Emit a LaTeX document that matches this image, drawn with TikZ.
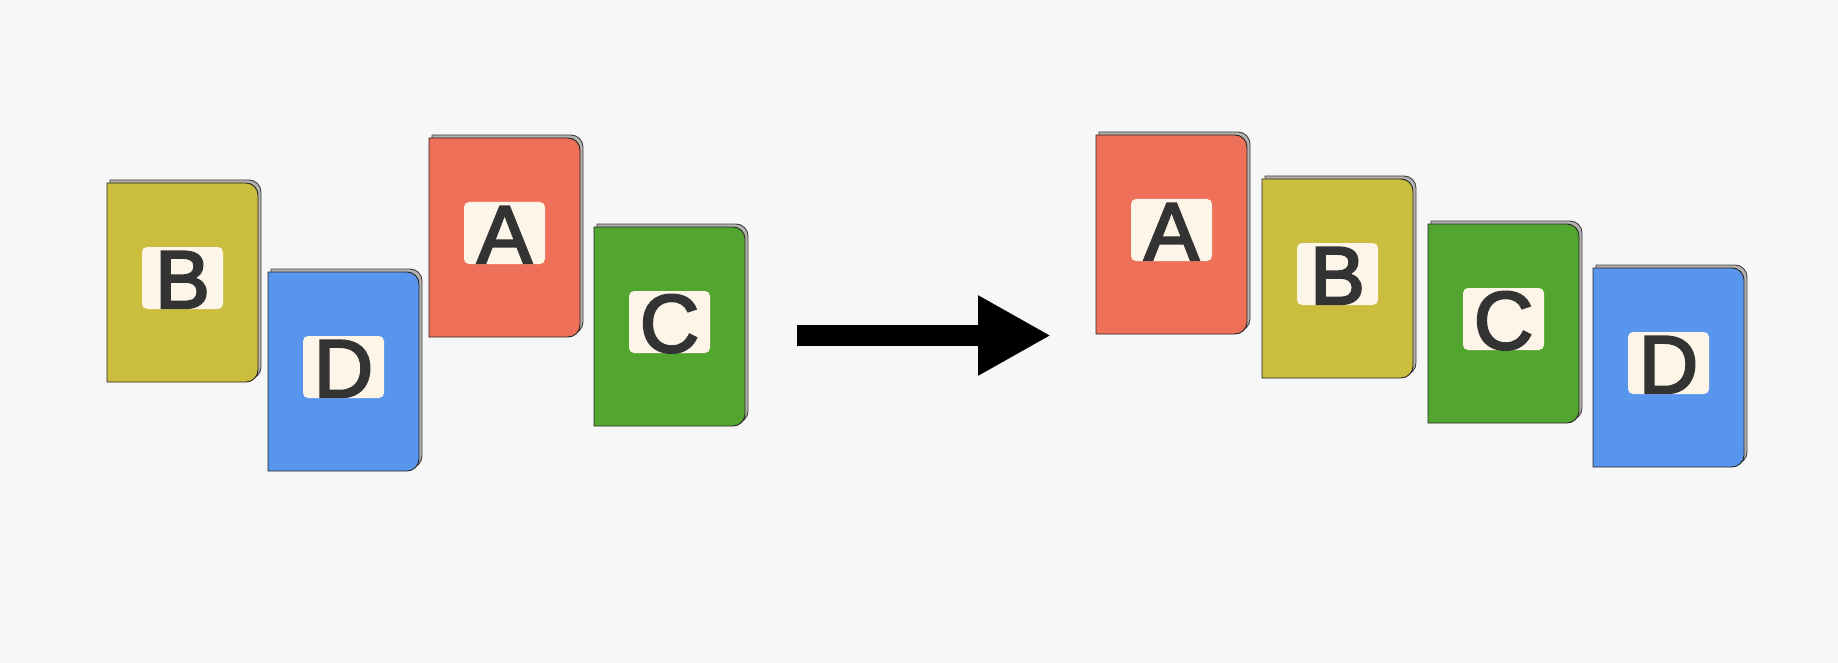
\documentclass[tikz,border=0pt]{standalone}
\usepackage{fontspec}
\setmainfont{Liberation Sans}
\newfontfamily\lettfont{Liberation Sans}[FakeBold=3]
\usetikzlibrary{arrows.meta}
\definecolor{bgc}{HTML}{F7F7F7}
\definecolor{cyel}{HTML}{CBBD3D}
\definecolor{cblu}{HTML}{5895EC}
\definecolor{cred}{HTML}{EF7058}
\definecolor{cgrn}{HTML}{52A52F}
\definecolor{cream}{HTML}{FDF5E7}
\definecolor{ink}{HTML}{333333}
\definecolor{pages}{HTML}{B4B2AE}
\tikzset{
  coverline/.style={draw=black!85, line width=0.9pt},
  pagesback/.style={fill=pages, draw=black!75, line width=0.9pt},
  labelbox/.style={fill=cream, rounded corners=5pt, draw=none},
  letter/.style={text=ink, font=\lettfont\fontsize{82}{82}\selectfont, inner sep=0pt, anchor=base},
  bigarrow/.style={line width=20.5pt, line cap=butt, -{Triangle[length=73pt,width=75pt]}}
}
% #1 name, #2 x-left, #3 y-top, #4 colour, #5 letter
\newcommand\drawbook[5]{%
  \path[pagesback] (#2+3,#3-3) -- (#2+3+139,#3-3) arc[start angle=-90,end angle=0,radius=12] -- (#2+3+151,#3-3+187) arc[start angle=0,end angle=90,radius=12] -- (#2+3,#3-3+199) -- cycle;
  \path[fill=#4, coverline] (#2,#3) -- (#2+139,#3) arc[start angle=-90,end angle=0,radius=12] -- (#2+151,#3+187) arc[start angle=0,end angle=90,radius=12] -- (#2,#3+199) -- cycle;
  \path[labelbox] (#2+75.5-40.5,#3+95-31) rectangle (#2+75.5+40.5,#3+95+31);
  \node[letter] (#1) at (#2+75.5,#3+95+30) {#5};
}
\begin{document}
\begin{tikzpicture}[x=1pt,y=-1pt]
\useasboundingbox (0,0) rectangle (1838,663);
\fill[bgc] (0,0) rectangle (1838,663);
% left group
\drawbook{lB}{107}{183}{cyel}{B}
\drawbook{lD}{268}{272}{cblu}{D}
\drawbook{lA}{429}{138}{cred}{A}
\drawbook{lC}{594}{227}{cgrn}{C}
% right group
\drawbook{rA}{1096}{135}{cred}{A}
\drawbook{rB}{1262}{179}{cyel}{B}
\drawbook{rC}{1428}{224}{cgrn}{C}
\drawbook{rD}{1593}{268}{cblu}{D}
% arrow
\coordinate (arrS) at (797,335.5);
\coordinate (arrE) at (1051,335.5);
\draw[bigarrow] (arrS) -- (arrE);
\end{tikzpicture}
\end{document}
